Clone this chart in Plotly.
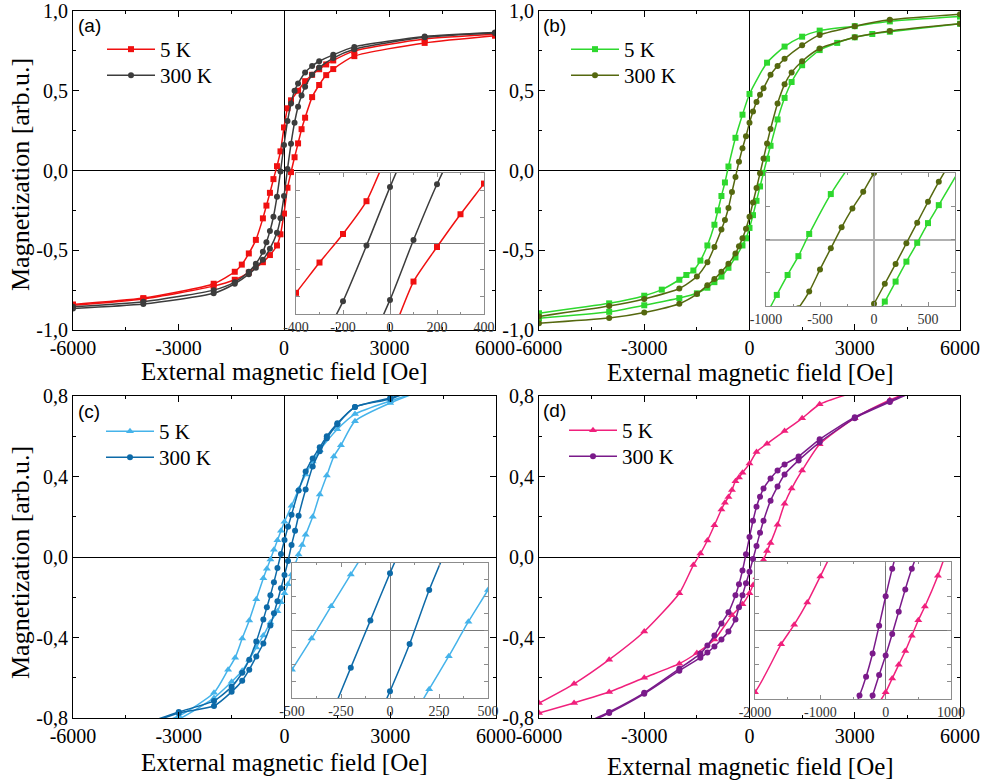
import plotly.graph_objects as go

W, H = 984, 782

# ---------------- data (H in Oe, M in arb.u.) ----------------
# panel (a)
A5_DESC_H = [6000, 4000, 2000, 1400, 1200, 1000, 800, 600, 400, 200, 100, 0, -100, -200, -300, -400, -500, -600, -800, -1000, -1200, -1400, -2000, -4000, -6000]
A5_DESC_M = [0.855, 0.825, 0.75, 0.69, 0.665, 0.635, 0.60, 0.56, 0.50, 0.44, 0.39, 0.27, 0.12, 0.027, -0.054, -0.14, -0.22, -0.30, -0.435, -0.52, -0.59, -0.635, -0.71, -0.80, -0.84]
A5_ASC_H = [-6000, -4000, -2000, -1400, -1000, -600, -400, -200, -100, 0, 100, 200, 300, 400, 500, 600, 800, 1000, 1200, 1400, 2000, 4000, 6000]
A5_ASC_M = [-0.845, -0.805, -0.725, -0.685, -0.64, -0.575, -0.53, -0.47, -0.40, -0.27, -0.108, -0.01, 0.083, 0.17, 0.259, 0.331, 0.46, 0.536, 0.598, 0.636, 0.717, 0.80, 0.845]
A300_DESC_H = [6000, 4000, 2000, 1400, 1000, 800, 600, 400, 300, 200, 100, 0, -100, -200, -300, -400, -500, -600, -800, -1000, -1400, -2000, -4000, -6000]
A300_DESC_M = [0.865, 0.84, 0.775, 0.725, 0.685, 0.655, 0.615, 0.545, 0.50, 0.42, 0.31, 0.16, -0.006, -0.164, -0.29, -0.38, -0.45, -0.51, -0.585, -0.635, -0.70, -0.75, -0.823, -0.855]
A300_ASC_H = [-6000, -4000, -2000, -1400, -1000, -800, -600, -400, -200, -100, 0, 100, 200, 300, 400, 500, 600, 800, 1000, 1400, 2000, 4000, 6000]
A300_ASC_M = [-0.865, -0.837, -0.77, -0.71, -0.65, -0.61, -0.56, -0.49, -0.39, -0.30, -0.16, 0.01, 0.168, 0.30, 0.40, 0.47, 0.525, 0.60, 0.645, 0.705, 0.76, 0.835, 0.862]

# panel (b)
B5_DESC_H = [6000, 4000, 3000, 2000, 1500, 1000, 500, 0, -200, -400, -600, -700, -800, -900, -1000, -1200, -1400, -1600, -1800, -2000, -2500, -3000, -4000, -6000]
B5_DESC_M = [0.965, 0.935, 0.905, 0.877, 0.839, 0.777, 0.676, 0.48, 0.35, 0.205, 0.025, -0.075, -0.16, -0.25, -0.34, -0.47, -0.565, -0.627, -0.655, -0.685, -0.747, -0.785, -0.833, -0.895]
B5_ASC_H = [-6000, -4000, -3000, -2000, -1500, -1200, -1000, -800, -600, -400, -200, -100, 0, 100, 200, 300, 400, 500, 600, 800, 1000, 1200, 1500, 2000, 2500, 3000, 3500, 4000, 6000]
B5_ASC_M = [-0.926, -0.886, -0.845, -0.80, -0.77, -0.735, -0.70, -0.665, -0.61, -0.545, -0.47, -0.425, -0.36, -0.28, -0.19, -0.10, -0.015, 0.074, 0.155, 0.32, 0.455, 0.555, 0.66, 0.755, 0.80, 0.835, 0.856, 0.87, 0.92]
B300_DESC_H = [6000, 4000, 3000, 2000, 1500, 1000, 800, 600, 400, 300, 200, 100, 0, -100, -200, -300, -400, -500, -600, -700, -800, -1000, -1200, -1500, -2000, -3000, -4000, -6000]
B300_DESC_M = [0.98, 0.945, 0.905, 0.85, 0.785, 0.70, 0.655, 0.60, 0.515, 0.475, 0.43, 0.37, 0.30, 0.215, 0.14, 0.055, -0.04, -0.135, -0.235, -0.31, -0.37, -0.48, -0.575, -0.665, -0.74, -0.805, -0.85, -0.915]
B300_ASC_H = [-6000, -4000, -3000, -2000, -1500, -1200, -1000, -800, -600, -400, -300, -200, -100, 0, 100, 200, 300, 400, 500, 600, 800, 1000, 1200, 1500, 2000, 3000, 4000, 6000]
B300_ASC_M = [-0.957, -0.925, -0.89, -0.835, -0.775, -0.72, -0.68, -0.635, -0.585, -0.52, -0.475, -0.425, -0.365, -0.29, -0.20, -0.11, -0.017, 0.076, 0.17, 0.26, 0.42, 0.54, 0.615, 0.685, 0.765, 0.835, 0.875, 0.92]

# panel (c)
C5_DESC_H = [5000, 4000, 3000, 2000, 1500, 1000, 800, 600, 400, 200, 0, -100, -200, -300, -400, -500, -600, -800, -1000, -1200, -1400, -1600, -2000, -3000, -4000]
C5_DESC_M = [0.87, 0.83, 0.775, 0.71, 0.635, 0.53, 0.475, 0.41, 0.335, 0.255, 0.175, 0.13, 0.083, 0.036, -0.012, -0.058, -0.105, -0.21, -0.315, -0.405, -0.50, -0.56, -0.675, -0.79, -0.85]
C5_ASC_H = [-4000, -3000, -2000, -1500, -1200, -1000, -800, -600, -400, -200, -100, 0, 100, 200, 300, 400, 500, 600, 800, 1000, 1200, 1400, 1600, 2000, 3000, 4000, 5000]
C5_ASC_M = [-0.86, -0.805, -0.70, -0.62, -0.565, -0.51, -0.45, -0.39, -0.325, -0.27, -0.225, -0.18, -0.135, -0.087, -0.038, 0.013, 0.06, 0.11, 0.20, 0.31, 0.405, 0.50, 0.555, 0.675, 0.765, 0.83, 0.87]
C300_DESC_H = [5000, 4000, 3000, 2000, 1500, 1200, 1000, 800, 600, 400, 200, 100, 0, -100, -200, -300, -400, -500, -600, -800, -1000, -1200, -1500, -2000, -3000, -4000]
C300_DESC_M = [0.88, 0.85, 0.785, 0.745, 0.665, 0.60, 0.545, 0.49, 0.425, 0.33, 0.21, 0.15, 0.085, 0.015, -0.055, -0.125, -0.19, -0.25, -0.31, -0.42, -0.51, -0.575, -0.645, -0.715, -0.77, -0.83]
C300_ASC_H = [-5000, -4000, -3000, -2000, -1500, -1200, -1000, -800, -600, -400, -300, -200, -100, 0, 100, 200, 300, 400, 600, 800, 1000, 1200, 1500, 2000, 3000, 4000]
C300_ASC_M = [-0.87, -0.835, -0.775, -0.74, -0.67, -0.615, -0.56, -0.495, -0.43, -0.34, -0.28, -0.22, -0.155, -0.09, -0.02, 0.06, 0.13, 0.205, 0.335, 0.45, 0.525, 0.59, 0.66, 0.745, 0.79, 0.85]

# panel (d)
D5_DESC_H = [4000, 3000, 2000, 1500, 1000, 500, 200, 0, -200, -300, -400, -500, -600, -700, -800, -1000, -1200, -1400, -1600, -2000, -3000, -4000, -5000, -6000]
D5_DESC_M = [0.88, 0.82, 0.759, 0.689, 0.626, 0.563, 0.522, 0.464, 0.419, 0.395, 0.377, 0.333, 0.298, 0.27, 0.236, 0.158, 0.082, 0.017, -0.04, -0.18, -0.37, -0.51, -0.63, -0.726]
D5_ASC_H = [-6000, -5000, -4000, -3000, -2000, -1500, -1000, -500, -200, 0, 100, 200, 300, 400, 500, 600, 800, 1000, 1200, 1500, 2000, 3000, 4000, 5000]
D5_ASC_M = [-0.775, -0.725, -0.671, -0.60, -0.53, -0.477, -0.41, -0.29, -0.235, -0.18, -0.14, -0.10, -0.06, -0.015, 0.03, 0.07, 0.16, 0.265, 0.34, 0.43, 0.56, 0.69, 0.78, 0.85]
D300_DESC_H = [5000, 4000, 3000, 2000, 1400, 1000, 800, 600, 400, 300, 200, 100, 0, -100, -200, -300, -400, -600, -800, -1000, -1200, -1400, -2000, -3000, -4000, -5000]
D300_DESC_M = [0.85, 0.775, 0.695, 0.585, 0.50, 0.46, 0.43, 0.39, 0.34, 0.30, 0.25, 0.18, 0.10, 0.014, -0.067, -0.135, -0.19, -0.275, -0.33, -0.39, -0.44, -0.48, -0.555, -0.675, -0.77, -0.85]
D300_ASC_H = [-5000, -4000, -3000, -2000, -1400, -1200, -1000, -800, -600, -400, -300, -200, -100, 0, 100, 200, 300, 400, 600, 800, 1000, 1400, 2000, 3000, 4000, 5000]
D300_ASC_M = [-0.855, -0.775, -0.68, -0.565, -0.50, -0.475, -0.445, -0.41, -0.37, -0.31, -0.25, -0.19, -0.13, -0.073, -0.01, 0.055, 0.12, 0.18, 0.28, 0.35, 0.41, 0.48, 0.57, 0.69, 0.77, 0.845]

TEMPS = ["5 K", "300 K"]
PANEL_LABELS = ["(a)", "(b)", "(c)", "(d)"]
X_TICKS = [-6000, -3000, 0, 3000, 6000]
X_TICKTEXT = ["-6000", "-3000", "0", "3000", "6000"]
Y_TICKS_TOP = [-1.0, -0.5, 0.0, 0.5, 1.0]
Y_TICKTEXT_TOP = ["-1,0", "-0,5", "0,0", "0,5", "1,0"]
Y_TICKS_BOT = [-0.8, -0.4, 0.0, 0.4, 0.8]
Y_TICKTEXT_BOT = ["-0,8", "-0,4", "0,0", "0,4", "0,8"]
INSET_XRANGES = [[-400, 400], [-1000, 750], [-500, 500], [-2000, 1000]]
INSET_XTICKS = [[-400, -200, 0, 200, 400], [-1000, -500, 0, 500], [-500, -250, 0, 250, 500], [-2000, -1000, 0, 1000]]
INSET_YHALF = [0.2, 0.3, 0.1, 0.2]
X_TITLE = "External magnetic field [Oe]"
Y_TITLE = "Magnetization [arb.u.]"

# ---------------- styling ----------------
SERIF = "Liberation Serif"
SANS = "Liberation Sans"
COLORS = [("#f01010", "#3c3c3c"), ("#2ed82e", "#55680f"), ("#45b3ea", "#0d6aa8"), ("#f0207c", "#7a1a8a")]
SYMBOLS = [("square", "circle"), ("square", "circle"), ("triangle-up", "circle"), ("triangle-up", "circle")]

MAIN_DOM = [([73, 495], [11, 330]), ([539, 960], [11, 330]), ([73, 496], [396, 718]), ([539, 960], [396, 718])]
INSET_DOM = [([296, 484], [173, 314]), ([766, 955], [173, 306]), ([292, 488], [563, 698]), ([755, 951], [562, 699])]
# legend line start (x) and row centre (y) per panel / temperature
LEGEND_ROWS = [((107, 51), (107, 77)), ((571, 51), (571, 77)), ((106, 433), (106, 459)), ((569, 432), (569, 458))]
LABEL_POS = [(76, 25), (541, 25), (76, 411), (541, 410)]
XTITLE_POS = [(284, 371), (750, 373), (284, 762), (750, 766)]
YTITLE_POS = [(20, 175), (20, 563)]
INSET_MINOR = [100, 250, 125, 500]
INSET_YDT = [0.075, 0.15, 0.025, 0.05]
INSET_ZCOLOR = ["#777777", "#b0b0b0", "#777777", "#777777"]
INSET_ZWIDTH = [1, 2, 1, 1]

data = [
    ((A5_DESC_H, A5_DESC_M, A5_ASC_H, A5_ASC_M), (A300_DESC_H, A300_DESC_M, A300_ASC_H, A300_ASC_M)),
    ((B5_DESC_H, B5_DESC_M, B5_ASC_H, B5_ASC_M), (B300_DESC_H, B300_DESC_M, B300_ASC_H, B300_ASC_M)),
    ((C5_DESC_H, C5_DESC_M, C5_ASC_H, C5_ASC_M), (C300_DESC_H, C300_DESC_M, C300_ASC_H, C300_ASC_M)),
    ((D5_DESC_H, D5_DESC_M, D5_ASC_H, D5_ASC_M), (D300_DESC_H, D300_DESC_M, D300_ASC_H, D300_ASC_M)),
]


def fx(p):
    return p / W


def fy(p):
    return 1 - p / H


fig = go.Figure()
layout = {}
annotations = []

for i in range(4):
    n_main = i + 1
    n_ins = i + 5
    xm = "x" if n_main == 1 else f"x{n_main}"
    ym = "y" if n_main == 1 else f"y{n_main}"
    xi, yi = f"x{n_ins}", f"y{n_ins}"
    for t in range(2):
        k = 2 * i + t + 1
        leg = "legend" if k == 1 else f"legend{k}"
        dh, dm, ah, am = data[i][t]
        xs = list(dh) + [None] + list(ah)
        ys = list(dm) + [None] + list(am)
        msize = 7 if SYMBOLS[i][t] == "triangle-up" else 6
        common = dict(
            x=xs, y=ys, mode="lines+markers", connectgaps=False,
            line=dict(color=COLORS[i][t], width=1.5, shape="spline", smoothing=0.6),
            marker=dict(symbol=SYMBOLS[i][t], size=msize, color=COLORS[i][t]),
            name=TEMPS[t],
        )
        fig.add_trace(go.Scatter(xaxis=xm, yaxis=ym, legend=leg, **common))
        fig.add_trace(go.Scatter(xaxis=xi, yaxis=yi, showlegend=False, **common))
        lx, ly = LEGEND_ROWS[i][t]
        layout[leg] = dict(x=fx(lx - 5), y=fy(ly - 22), xanchor="left", yanchor="top",
                           bgcolor="rgba(0,0,0,0)", borderwidth=0, itemwidth=48,
                           font=dict(family=SERIF, size=21, color="black"),
                           itemclick=False, itemdoubleclick=False)

    (xl, xr), (yt, yb) = MAIN_DOM[i]
    top = i < 2
    axis_common = dict(showline=True, linecolor="black", linewidth=1, mirror="allticks",
                       ticks="inside", ticklen=6, tickwidth=1, tickcolor="black",
                       showgrid=False, zeroline=True, zerolinecolor="black", zerolinewidth=1,
                       automargin=False, ticklabeloverflow="allow",
                       tickfont=dict(family=SERIF, size=20, color="black"))
    layout["xaxis" if n_main == 1 else f"xaxis{n_main}"] = dict(
        domain=[fx(xl), fx(xr)], anchor=ym, range=[-6000, 6000],
        tickmode="array", tickvals=X_TICKS, ticktext=X_TICKTEXT,
        minor=dict(ticks="inside", ticklen=3, tickcolor="black", dtick=1500, tick0=0),
        **axis_common)
    layout["yaxis" if n_main == 1 else f"yaxis{n_main}"] = dict(
        domain=[fy(yb), fy(yt)], anchor=xm,
        range=[-1, 1] if top else [-0.8, 0.8],
        tickmode="array",
        tickvals=Y_TICKS_TOP if top else Y_TICKS_BOT,
        ticktext=Y_TICKTEXT_TOP if top else Y_TICKTEXT_BOT,
        minor=dict(ticks="inside", ticklen=3, tickcolor="black", dtick=0.25 if top else 0.2, tick0=0),
        **axis_common)

    (ixl, ixr), (iyt, iyb) = INSET_DOM[i]
    R = INSET_YHALF[i]
    ins_common = dict(showline=True, linecolor="#8c8c8c", linewidth=1, mirror="allticks",
                      ticks="inside", ticklen=4, tickwidth=1, tickcolor="#8c8c8c",
                      showgrid=False, zeroline=True, zerolinecolor=INSET_ZCOLOR[i],
                      zerolinewidth=INSET_ZWIDTH[i], automargin=False, ticklabeloverflow="allow")
    layout[f"xaxis{n_ins}"] = dict(
        domain=[fx(ixl), fx(ixr)], anchor=yi, range=INSET_XRANGES[i],
        tickmode="array", tickvals=INSET_XTICKS[i], ticktext=[str(v) for v in INSET_XTICKS[i]],
        tickfont=dict(family=SERIF, size=14, color="#333333"),
        minor=dict(ticks="inside", ticklen=2, tickcolor="#8c8c8c", dtick=INSET_MINOR[i], tick0=0),
        **ins_common)
    layout[f"yaxis{n_ins}"] = dict(
        domain=[fy(iyb), fy(iyt)], anchor=xi, range=[-R, R],
        dtick=INSET_YDT[i], tick0=0, showticklabels=False, **ins_common)

    px_, py_ = LABEL_POS[i]
    annotations.append(dict(text=PANEL_LABELS[i], x=fx(px_), y=fy(py_), xref="paper", yref="paper",
                            xanchor="left", yanchor="middle", showarrow=False,
                            font=dict(family=SANS, size=19, color="black")))
    tx, ty = XTITLE_POS[i]
    annotations.append(dict(text=X_TITLE, x=fx(tx), y=fy(ty), xref="paper", yref="paper",
                            xanchor="center", yanchor="middle", showarrow=False,
                            font=dict(family=SERIF, size=25, color="black")))

for (tx, ty) in YTITLE_POS:
    annotations.append(dict(text=Y_TITLE, x=fx(tx), y=fy(ty), xref="paper", yref="paper",
                            xanchor="center", yanchor="middle", showarrow=False, textangle=-90,
                            font=dict(family=SERIF, size=26, color="black")))

fig.update_layout(
    width=W, height=H, margin=dict(l=0, r=0, t=0, b=0, autoexpand=False),
    paper_bgcolor="white", plot_bgcolor="white",
    annotations=annotations, **layout,
)

fig.write_html("out.html")
